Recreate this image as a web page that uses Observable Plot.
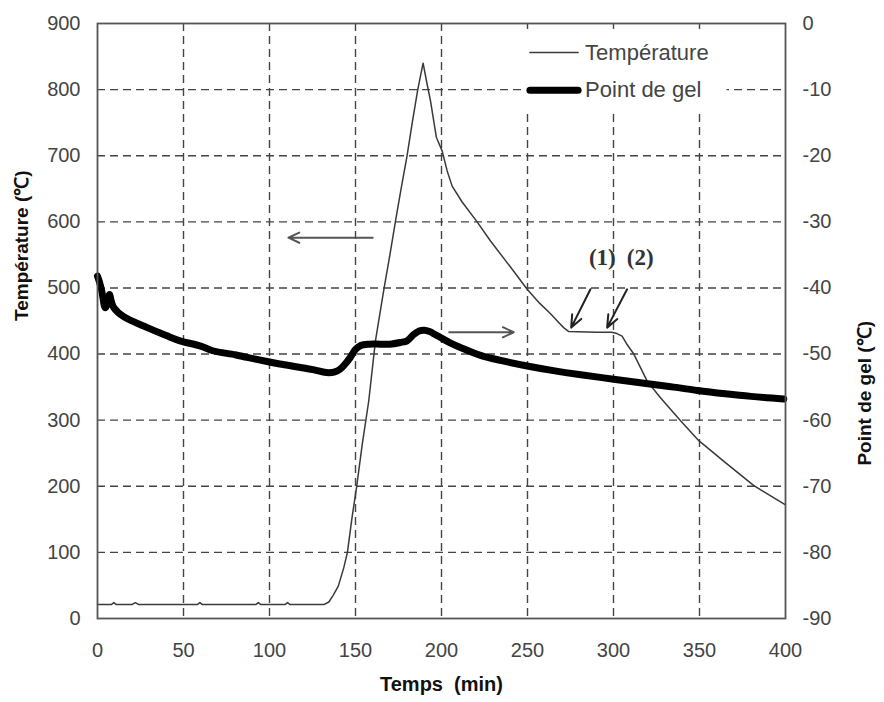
<!DOCTYPE html>
<html>
<head>
<meta charset="utf-8">
<script src="https://cdn.jsdelivr.net/npm/d3@7"></script>
<script src="https://cdn.jsdelivr.net/npm/@observablehq/plot@0.6"></script>
<style>
  html, body { margin: 0; padding: 0; background: #fff; }
  #chart { width: 884px; height: 702px; }
</style>
</head>
<body>
<div id="chart"></div>
<script>
// Temperature (left axis, °C) vs time (min)
const tempTime = [0, 8, 9.5, 11, 20, 22, 24, 58, 59.5, 61, 92, 93.5, 95, 109, 110.5, 112, 131.6, 134.5, 137, 140, 143.2, 145.3, 148, 150.6, 154, 157.7, 161.6, 166.5, 170, 173.3, 176.5, 180, 183, 186.2, 189.3, 191.5, 193.6, 197, 200.4, 203.3, 206.2, 212, 220.7, 228.5, 240, 249.8, 257, 263.4, 268, 271, 274, 290, 299, 302, 305, 308, 311.8, 319.6, 327.3, 339, 349.6, 364, 381.6, 400];
const tempValues = [21, 21, 24, 21, 21, 24, 21, 21, 24, 21, 21, 24, 21, 21, 24, 21, 21, 25, 35, 49, 77, 100, 153, 198, 265, 329, 420, 498, 550, 602, 650, 700, 750, 800, 840, 810, 783, 728, 707, 677, 654, 630, 600, 571, 532, 498, 477, 461, 448, 440, 434, 433, 433, 431, 427, 414, 400, 359, 334, 299, 269, 238, 201, 172];

// Freezing point (right axis, °C) vs time (min)
const gelTime = [0, 1, 2.5, 4.5, 6, 7, 8, 9.5, 15, 29, 40, 48, 60, 67, 80, 87, 100, 106, 120, 126, 133, 138, 141, 144, 147, 150, 153, 158, 164.5, 170, 176, 180, 184, 187, 190, 193, 196, 199.4, 205, 211, 222.7, 235, 249.8, 265, 280, 300, 320, 335, 348.7, 365, 380, 399];
const gelValues = [-38.2, -39, -40.5, -43, -42, -41, -42, -43, -44.3, -46, -47.2, -48, -48.8, -49.5, -50.1, -50.5, -51.2, -51.5, -52.1, -52.4, -52.8, -52.7, -52.3, -51.5, -50.5, -49.3, -48.7, -48.5, -48.5, -48.5, -48.25, -48, -47, -46.5, -46.4, -46.6, -47, -47.5, -48.3, -49, -50.2, -51, -51.8, -52.5, -53.1, -53.8, -54.5, -55, -55.5, -56, -56.4, -56.8];

// Axis ticks
const xTicks = [0, 50, 100, 150, 200, 250, 300, 350, 400];
const yTicks = [0, 100, 200, 300, 400, 500, 600, 700, 800, 900];
const y2Ticks = [0, -10, -20, -30, -40, -50, -60, -70, -80, -90];

// Texts
const xTitle = "Temps  (min)";
const yTitle = "Température (℃)";
const y2Title = "Point de gel (℃)";
const seriesNames = ["Température", "Point de gel"];
const markerLabels = ["(1)", "(2)"];

// right axis mapping: -90..0  ->  0..900
const toLeft = v => (v + 90) * 10;
const toRight = v => v / 10 - 90;

const tempData = tempTime.map((t, i) => ({t, v: tempValues[i]}));
const gelData = gelTime.map((t, i) => ({t, v: toLeft(gelValues[i])}));

// Annotations (data coordinates: time, left-axis temperature)
const dirArrows = [
  {x1: 160, x2: 111, y: 576},
  {x1: 204.5, x2: 242, y: 433}
];
const markerArrows = [
  {x1: 286.6, y1: 498, x2: 275.4, y2: 440},
  {x1: 307.9, y1: 498, x2: 296.3, y2: 440}
];
const markerLabelPos = [{x: 293.5, y: 546}, {x: 315.5, y: 546}];
const legendBox = {x1: 247, x2: 366, y1: 765, y2: 891};
const legendRows = [{x1: 251.7, x2: 279.7, y: 856, w: 1.5}, {x1: 251.7, x2: 279.7, y: 799, w: 7}];

const gridStyle = {stroke: "#444", strokeOpacity: 1, strokeWidth: 1.4, strokeDasharray: "8,5"};

const chart = Plot.plot({
  width: 884,
  height: 702,
  marginLeft: 97,
  marginRight: 99,
  marginTop: 23,
  marginBottom: 84,
  x: {domain: [0, 400]},
  y: {domain: [0, 900]},
  style: {fontFamily: "'Liberation Sans', Arial, sans-serif", fontSize: "20px", color: "#444", background: "#fff"},
  marks: [
    Plot.gridX(xTicks.slice(1, -1), gridStyle),
    Plot.gridY(yTicks.slice(1, -1), gridStyle),
    Plot.axisX(xTicks, {tickSize: 0, tickPadding: 24, label: null, fontSize: 20}),
    Plot.axisY(yTicks, {anchor: "left", tickSize: 0, tickPadding: 17, label: null, fontSize: 20}),
    Plot.axisY(yTicks, {anchor: "right", tickSize: 0, tickPadding: 17, label: null, fontSize: 20, tickFormat: d => String(toRight(d))}),
    // legend background
    Plot.rect([legendBox], {x1: "x1", x2: "x2", y1: "y1", y2: "y2", fill: "#fff"}),
    Plot.line(tempData, {x: "t", y: "v", stroke: "#3a3a3a", strokeWidth: 1.5, curve: "linear"}),
    Plot.line(gelData, {x: "t", y: "v", stroke: "#000", strokeWidth: 7, curve: "catmull-rom", strokeLinejoin: "round"}),
    Plot.arrow(dirArrows, {x1: "x1", x2: "x2", y1: "y", y2: "y", stroke: "#555", strokeWidth: 2, headLength: 9, headAngle: 50}),
    Plot.arrow(markerArrows, {x1: "x1", y1: "y1", x2: "x2", y2: "y2", stroke: "#222", strokeWidth: 2, headLength: 10, headAngle: 45}),
    Plot.text(markerLabelPos, {x: "x", y: "y", text: (d, i) => markerLabels[i], fontFamily: "'Liberation Serif', 'Times New Roman', serif", fontWeight: "bold", fontSize: 23, fill: "#333"}),
    // legend
    Plot.ruleY(legendRows, {x1: "x1", x2: "x2", y: "y", strokeWidth: "w", stroke: (d, i) => i ? "#000" : "#3a3a3a", strokeLinecap: "round"}),
    Plot.text(legendRows, {x: 283.5, y: "y", text: (d, i) => seriesNames[i], textAnchor: "start", fontSize: 22, fill: "#444"}),
    Plot.frame({stroke: "#555", strokeWidth: 1.8}),
    // axis titles
    Plot.text([xTitle], {frameAnchor: "bottom", dy: 72, fontWeight: "bold", fontSize: 20, fill: "#111", text: d => d}),
    Plot.text([yTitle], {frameAnchor: "left", dx: -76, rotate: -90, fontWeight: "bold", fontSize: 19, fill: "#111", text: d => d}),
    Plot.text([y2Title], {frameAnchor: "right", dx: 79, rotate: -90, fontWeight: "bold", fontSize: 19, fill: "#111", text: d => d})
  ]
});
document.getElementById("chart").appendChild(chart);
</script>
</body>
</html>
